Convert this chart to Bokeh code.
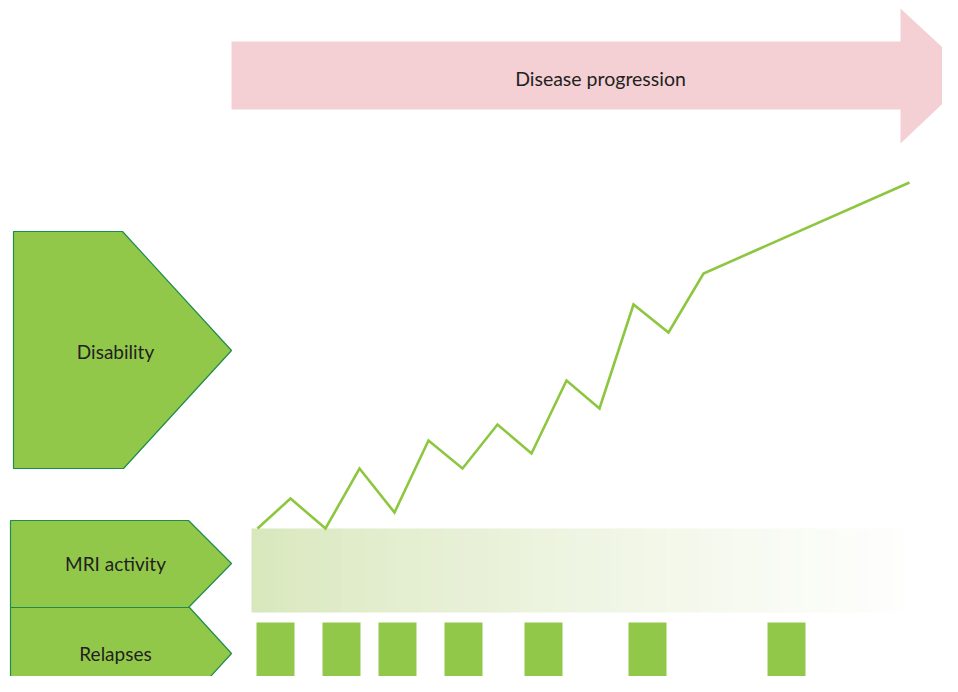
from bokeh.plotting import figure
from bokeh.models import Range1d, ColumnDataSource
from bokeh.core.properties import value
from bokeh.embed import file_html
from bokeh.resources import INLINE

# ---- data (diagram units: x = time, y = level, origin bottom-left) ----
disability_t = [257, 290, 325, 359, 394, 428, 462, 497, 531, 566, 599, 633, 668, 703, 909]
disability_level = [164, 194, 164, 224, 180, 252, 224, 268, 239, 312, 284, 388, 360, 419, 510]

relapse_t = [256, 322, 378, 444, 524, 628, 767]
relapse_duration = [38, 38, 38, 38, 38, 38, 38]

mri_start, mri_end = 251, 925

row_labels = ["Disability", "MRI activity", "Relapses"]
title_label = "Disease progression"

# ---- styles ----
GREEN = "#92c84a"
EDGE = "#1f8c4e"
LINE = "#8dc63f"
PINK = "#f4d0d5"
TXT = "#231f20"
FONT = value("Lato")

W, H = 942, 676
p = figure(width=W, height=H, output_backend="svg", toolbar_location=None,
           x_range=Range1d(0, W), y_range=Range1d(692 - H, 692),
           min_border=0)
p.axis.visible = False
p.grid.visible = False
p.outline_line_color = None
p.background_fill_color = "white"
p.border_fill_color = "white"

# disease progression arrow
p.patch([231, 900, 900, 972, 900, 900, 231],
        [651, 651, 684, 617, 549, 583, 583],
        fill_color=PINK, line_color=None)
p.text(x=[600], y=[614], text=[title_label], text_font=FONT, text_font_size="19.5px",
       text_color=TXT, text_align="center", text_baseline="middle")

# row label pentagons
p.patch([13, 122, 231, 123, 13], [461, 461, 342, 224, 224],
        fill_color=GREEN, line_color=EDGE, line_width=1.2)
p.patch([10, 188, 231, 188, 10], [172, 172, 129, 85, 85],
        fill_color=GREEN, line_color=EDGE, line_width=1.2)
p.patch([10, 189, 231, 189, 10], [85, 85, 39, -7, -7],
        fill_color=GREEN, line_color=EDGE, line_width=1.2)
p.text(x=[115, 115, 115], y=[341, 129, 39], text=row_labels, text_font=FONT,
       text_font_size="19px", text_color=TXT, text_align="center",
       text_baseline="middle")

# MRI activity band with horizontal gradient (drawn as strips)
n = 60
c0 = (0xd8, 0xe7, 0xbc)
c1 = (0xff, 0xff, 0xff)
lefts, rights, cols = [], [], []
for i in range(n):
    f = i / (n - 1)
    g = f ** 0.8
    r = [round(c0[k] + (c1[k] - c0[k]) * g) for k in range(3)]
    cols.append("#%02x%02x%02x" % tuple(r))
    lefts.append(mri_start + (mri_end - mri_start) * i / n)
    rights.append(mri_start + (mri_end - mri_start) * (i + 1) / n + 0.6)
p.quad(left=lefts, right=rights, bottom=80, top=164, fill_color=cols, line_color=None)

# disability line
p.line(disability_t, disability_level, line_color=LINE, line_width=2.6,
       line_join="miter")

# relapses
src = ColumnDataSource(dict(left=relapse_t,
                            right=[a + b for a, b in zip(relapse_t, relapse_duration)]))
p.quad(left="left", right="right", bottom=13, top=70, source=src,
       fill_color=GREEN, line_color=None)

open("out.html", "w").write(file_html(p, INLINE))
